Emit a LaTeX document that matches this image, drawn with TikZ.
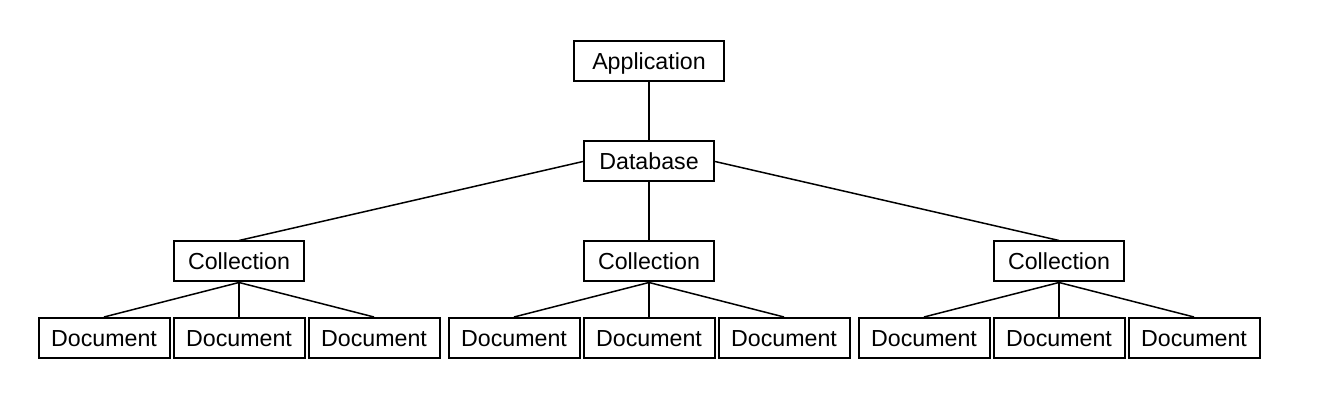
\documentclass[tikz,border=0pt]{standalone}
\usepackage{fontspec}
\setmainfont{Liberation Sans}
\begin{document}
\begin{tikzpicture}[x=0.5pt,y=-0.5pt,
        box/.style={draw, line width=1pt, minimum width=65pt, minimum height=20pt,
            inner sep=0pt, text height=8.3pt, text depth=0pt,
            font=\fontsize{11.6}{14}\selectfont},
        link/.style={line width=0.75pt}]
    \useasboundingbox (0,0) rectangle (1320,400);
    \node[box, minimum width=75pt] (app) at (649,61) {Application};
    \node[box] (db) at (649,161.5) {Database};
    \draw[link] (app) -- (db);
    % collections and their documents
    \foreach \g/\cx in {l/239, m/649, r/1059} {
        \node[box] (coll\g) at (\cx,261.5) {Collection};
        \foreach \d/\dx in {1/-135, 2/0, 3/135} {
            \node[box, minimum width=65.5pt] (doc\g\d) at (\cx+\dx,338) {Document};
            \draw[link] (coll\g.south) -- (doc\g\d.north);
        }
    }
    \draw[link] (db.west) -- (colll.north);
    \draw[link] (db.south) -- (collm.north);
    \draw[link] (db.east) -- (collr.north);
\end{tikzpicture}
\end{document}
